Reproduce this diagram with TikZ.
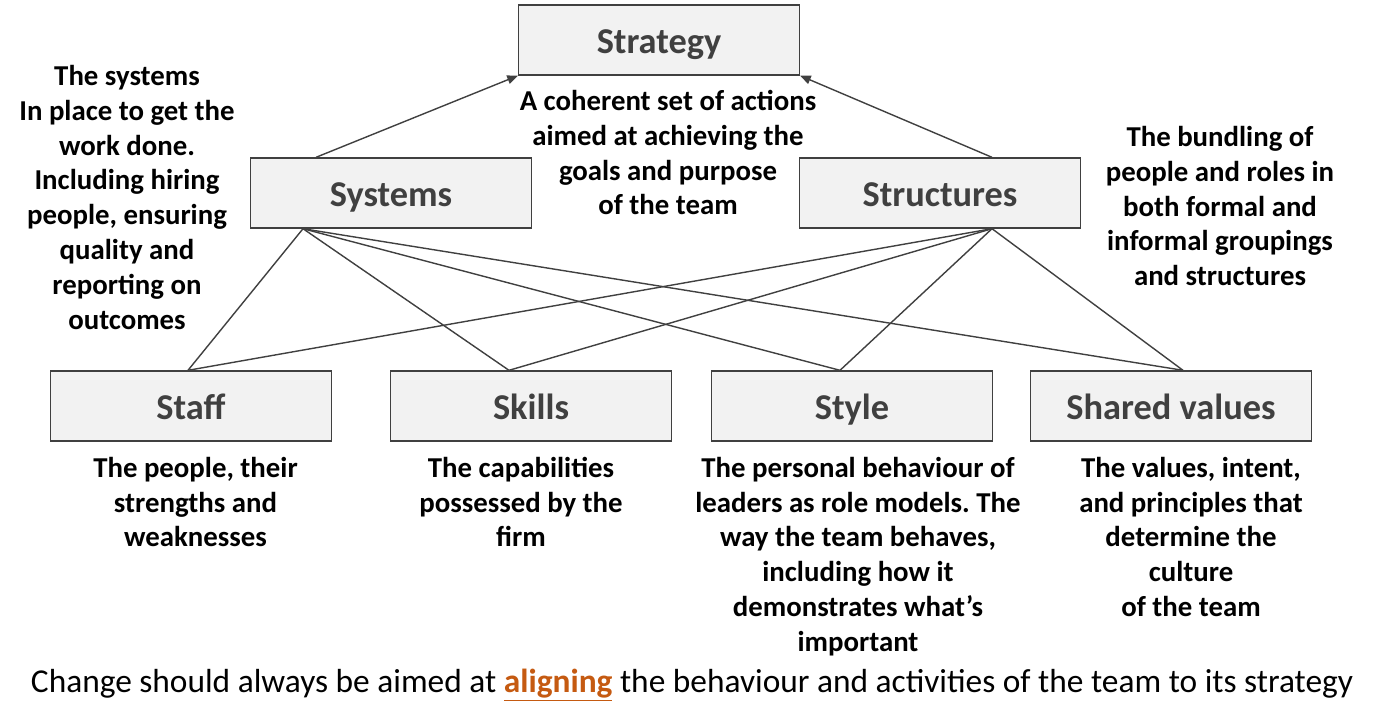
\documentclass[tikz,border=0pt]{standalone}
\usepackage{fontspec}
\setmainfont{Carlito}
\frenchspacing
\usetikzlibrary{positioning, arrows.meta}
\definecolor{boxline}{HTML}{404040}
\definecolor{boxfill}{HTML}{F2F2F2}
\definecolor{accent}{HTML}{C55A11}

\begin{document}
\begin{tikzpicture}[x=0.02cm,y=-0.02cm,>={Triangle[length=6pt,width=5pt]},
    box/.style={draw=boxline, fill=boxfill, line width=0.8pt, minimum width=5.62cm, minimum height=1.4cm,
      text=boxline, text height=15.5pt, text depth=0pt, font=\fontsize{20.7}{24}\selectfont\bfseries},
    desc/.style={align=center, inner sep=0pt, font=\fontsize{16.4}{19.8}\selectfont\bfseries},
    link/.style={draw=boxline, line width=0.8pt}]
    \useasboundingbox (0,0) rectangle (1382,725);
    % the seven boxes
    \node[box] (strategy) at (659,40) {Strategy};
    \node[box] (systems) at (391,193) {Systems};
    \node[box] (structures) at (940,193) {Structures};
    \node[box] (staff) at (191,406) {Staff};
    \node[box] (skills) at (531,406) {Skills};
    \node[box] (style) at (852,406) {Style};
    \node[box] (shared) at (1171,406) {Shared values};
    % texts
    \node[desc, anchor=north] (systemstext) at (127,65) {The systems\\In place to get the\\work done.\\Including hiring\\people, ensuring\\quality and\\reporting on\\outcomes};
    \node[desc, anchor=north] (strategytext) at (668,90) {A coherent set of actions\\aimed at achieving the\\goals and purpose\\of the team};
    \node[desc, anchor=north] (structurestext) at (1220,126) {The bundling of\\people and roles in\\both formal and\\informal groupings\\and structures};
    \node[desc, below=0.3cm of staff, xshift=0.09cm] (stafftext) {The people, their\\strengths and\\weaknesses};
    \node[desc, below=0.3cm of skills, xshift=-0.2cm] (skillstext) {The capabilities\\possessed by the\\firm};
    \node[desc, below=0.3cm of style, xshift=0.12cm] (styletext) {The personal behaviour of\\leaders as role models. The\\way the team behaves,\\including how it\\demonstrates what’s\\important};
    \node[desc, below=0.3cm of shared, xshift=0.4cm] (sharedtext) {The values, intent,\\and principles that\\determine the\\culture\\of the team};
    \node[inner sep=0pt, font=\fontsize{19}{22}\selectfont] (change) at (692,685)
      {Change should always be aimed at \textcolor{accent}{\bfseries\underline{aligning}} the behaviour and activities of the team to its strategy};
    % arrows up to strategy
    \draw[link, ->] ([xshift=-1.5cm]systems.north) -- (strategy.south west);
    \draw[link, ->] ([xshift=1.04cm]structures.north) -- (strategy.south east);
    % links down to the four soft S
    \foreach \top/\off in {systems/-1.76cm, structures/1.04cm}
      \foreach \low/\loff in {staff/-0.06cm, skills/-0.44cm, style/-0.24cm, shared/0.24cm}
        \draw[link] ([xshift=\off]\top.south) -- ([xshift=\loff]\low.north);
\end{tikzpicture}
\end{document}
